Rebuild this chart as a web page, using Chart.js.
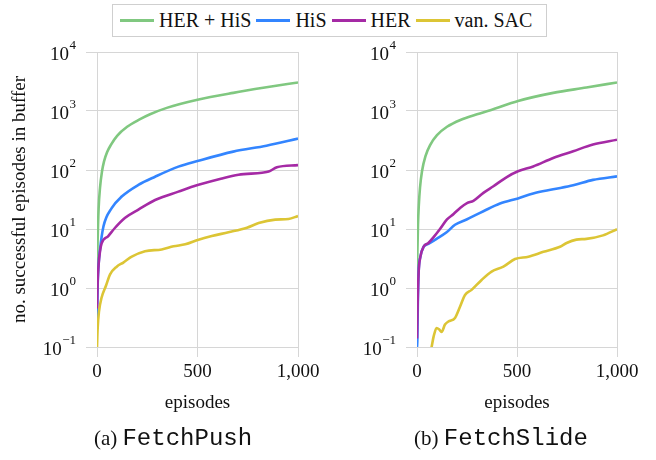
<!DOCTYPE html>
<html>
<head>
<meta charset="utf-8">
<script src="https://cdn.jsdelivr.net/npm/chart.js@4.4.1/dist/chart.umd.min.js"></script>
<style>
  html, body { margin:0; padding:0; background:#fff; }
  body { width:656px; height:460px; position:relative; overflow:hidden; font-family:"Liberation Serif","Times New Roman",serif; color:#111; }
  canvas { position:absolute; left:0; top:0; }
  #legend { position:absolute; left:112px; top:4px; width:426px; height:31px; border:1px solid #cfcfcf; display:flex; align-items:center; padding-left:7px; box-sizing:content-box; font-size:20px; white-space:nowrap; }
  #legend .sw { display:inline-block; width:34px; height:3px; margin-right:5px; }
  #legend .lb { margin-right:5px; }
  .cap { position:absolute; top:425px; font-size:21px; white-space:nowrap; transform:translateX(-50%); }
  .cap .mono { font-family:"Liberation Mono","Courier New",monospace; font-size:24px; }
</style>
</head>
<body>
<div id="legend"></div>
<canvas id="c1" width="656" height="460"></canvas>
<canvas id="c2" width="656" height="460"></canvas>
<div class="cap" style="left:173px">(a) <span class="mono">FetchPush</span></div>
<div class="cap" style="left:501px">(b) <span class="mono">FetchSlide</span></div>
<script>
// ---- data (episodes, no. successful episodes in buffer) ----
const seriesNames = ['HER + HiS', 'HiS', 'HER', 'van. SAC'];
const seriesColors = ['#80c880', '#3385ff', '#a52aa5', '#dcc535'];

const xTickValues = [0, 500, 1000];
const xTickLabels = ['0', '500', '1,000'];
const yTickValues = [0.1, 1, 10, 100, 1000, 10000];
const yTickExponents = ['\u22121', '0', '1', '2', '3', '4'];
const yTickLabels = ['10\u207B\u00B9', '10\u2070', '10\u00B9', '10\u00B2', '10\u00B3', '10\u2074'];

// FetchPush
const pushHerHis = [[0,1.6],[3,6],[8,22],[15,50],[25,95],[35,140],[50,200],[70,270],[100,380],[150,540],[212,720],[264,880],[347,1130],[500,1550],[678,2030],[843,2520],[1000,3050]];
const pushHis = [[0,0.2],[3,1],[8,2.5],[15,4.5],[32,11],[73,22.6],[123,35.5],[206,56],[289,77],[405,114],[500,142],[678,205],[843,258],[1000,340]];
const pushHer = [[0,0.45],[3,1.2],[8,2.5],[15,4.2],[23,5.7],[56,7.6],[90,10.5],[140,15.5],[206,21.3],[289,31],[405,43],[505,56],[621,72],[704,83],[821,90],[854,94],[895,111],[1000,121]];
const pushSac = [[0,0.1],[3,0.2],[10,0.4],[23,0.69],[45,1.1],[65,1.7],[98,2.3],[131,2.7],[173,3.4],[239,4.2],[322,4.5],[381,5.1],[439,5.5],[505,6.6],[571,7.6],[654,8.8],[746,10.5],[804,12.6],[887,14.4],[953,14.8],[1000,16.6]];

// FetchSlide
const slideHerHis = [[0,1.6],[2,4],[5,12],[9,25],[15,50],[25,95],[42,170],[67,270],[100,390],[150,540],[217,705],[300,880],[367,1030],[505,1480],[681,2030],[847,2500],[1000,3050]];
const slideHis = [[0,0.1],[2,0.14],[4,0.5],[8,1.8],[17,3.4],[33,5.0],[57,5.6],[98,6.8],[148,8.8],[190,11.8],[248,14.5],[332,20],[415,27],[505,33],[581,40],[681,47],[781,55],[880,68],[1000,78]];
const slideHer = [[0,0.14],[3,0.5],[8,1.8],[17,3.4],[33,5.0],[57,5.8],[82,7.2],[115,10],[150,14.5],[183,18],[217,23],[250,27.5],[282,30],[332,41],[382,53],[449,76],[505,95],[581,115],[681,160],[781,208],[880,270],[1000,325]];
const slideSac = [[60,0.06],[73,0.1],[83,0.15],[98,0.21],[110,0.2],[123,0.18],[140,0.24],[157,0.27],[190,0.31],[215,0.48],[240,0.76],[273,0.93],[323,1.37],[373,1.9],[432,2.3],[490,3.1],[557,3.4],[632,4.1],[715,5.0],[748,5.8],[797,6.6],[847,6.8],[930,7.8],[1000,9.9]];

// ---- legend ----
const leg = document.getElementById('legend');
seriesNames.forEach((n, i) => {
  const s = document.createElement('span'); s.className = 'sw'; s.style.background = seriesColors[i];
  const t = document.createElement('span'); t.className = 'lb'; t.textContent = n;
  leg.appendChild(s); leg.appendChild(t);
});

const serif = '"Liberation Serif","Times New Roman",serif';
Chart.defaults.font.family = serif;
Chart.defaults.color = '#111';
const gridColor = '#d6d6d6';

// draws the power-of-ten y tick labels with a raised exponent
const powerLabels = {
  id: 'powerLabels',
  afterDraw(chart) {
    const s = chart.scales.y, ctx = chart.ctx;
    const xr = s.right - 11 - 10;
    ctx.save();
    ctx.fillStyle = '#111';
    ctx.textBaseline = 'middle';
    ctx.textAlign = 'left';
    s.ticks.forEach(t => {
      const k = yTickValues.findIndex(v => Math.abs(v - t.value) / v < 1e-6);
      if (k < 0) return;
      const y = s.getPixelForValue(t.value);
      ctx.font = '13px ' + serif;
      const ew = ctx.measureText(yTickExponents[k]).width;
      ctx.font = '19px ' + serif;
      const bw = ctx.measureText('10').width;
      ctx.fillText('10', xr - ew - bw - 0.5, y + 3);
      ctx.font = '13px ' + serif;
      ctx.fillText(yTickExponents[k], xr - ew, y - 6);
    });
    ctx.restore();
  }
};

function makeDatasets(arrs) {
  return arrs.map((a, i) => ({
    label: seriesNames[i],
    data: a.map(p => ({x: p[0], y: p[1]})),
    borderColor: seriesColors[i],
    backgroundColor: seriesColors[i],
    borderWidth: 2.6,
    pointRadius: 0,
    fill: false,
    cubicInterpolationMode: 'monotone',
    order: 4 - i
  }));
}

function makeChart(id, arrs, pad, yWidth, showTitle) {
  return new Chart(document.getElementById(id), {
    type: 'line',
    data: { datasets: makeDatasets(arrs) },
    plugins: [powerLabels],
    options: {
      responsive: false,
      animation: false,
      events: [],
      layout: { padding: pad },
      plugins: { legend: { display: false }, tooltip: { enabled: false } },
      scales: {
        x: {
          type: 'linear', min: 0, max: 1000,
          afterBuildTicks: s => { s.ticks = xTickValues.map(v => ({value: v})); },
          afterFit: s => { s.height = 71; },
          ticks: { font: { size: 19 }, padding: 4, maxRotation: 0, autoSkip: false,
                   callback: v => xTickLabels[xTickValues.indexOf(v)] },
          grid: { color: gridColor, lineWidth: 1, tickLength: 10 },
          border: { display: false },
          title: { display: true, text: 'episodes', font: { size: 19 }, padding: { top: 4, bottom: 4 } }
        },
        y: {
          type: 'logarithmic', min: 0.1, max: 10000,
          afterBuildTicks: s => { s.ticks = yTickValues.map(v => ({value: v})); },
          afterFit: s => { s.width = yWidth; },
          ticks: { font: { size: 19 }, padding: 10, autoSkip: false, color: 'rgba(0,0,0,0)',
                   callback: v => { const k = yTickValues.findIndex(t => Math.abs(t - v) / t < 1e-6); return k >= 0 ? yTickLabels[k] : ''; } },
          grid: { color: gridColor, lineWidth: 1, tickLength: 11 },
          border: { display: false },
          title: { display: showTitle, text: 'no. successful episodes in buffer', font: { size: 19 }, padding: { top: 9, bottom: 4 } }
        }
      }
    }
  });
}

makeChart('c1', [pushHerHis, pushHis, pushHer, pushSac], { left: 0, top: 52, right: 358, bottom: 42 }, 97, true);
makeChart('c2', [slideHerHis, slideHis, slideHer, slideSac], { left: 357, top: 52, right: 39, bottom: 42 }, 60, false);
</script>
</body>
</html>
